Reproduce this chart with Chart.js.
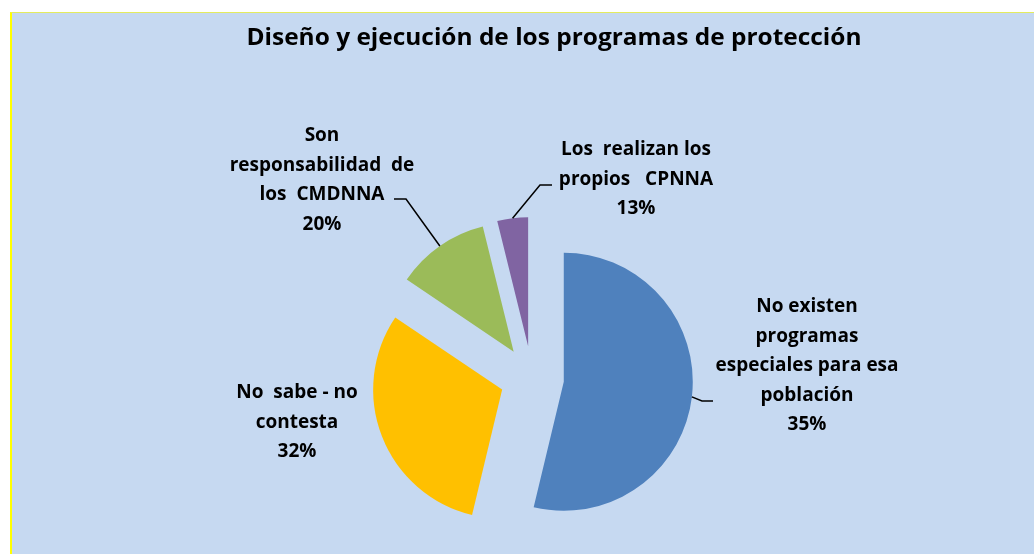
<!DOCTYPE html>
<html>
<head>
<meta charset="utf-8">
<script src="https://cdn.jsdelivr.net/npm/chart.js@4/dist/chart.umd.min.js"></script>
<style>
  html, body { margin: 0; padding: 0; background: #ffffff; overflow: hidden; }
  #box {
    position: absolute; left: 10px; top: 12px;
    width: 1030px; height: 545px;
    background: #C6D9F1;
    border-left: 2px solid #FFFF00;
    border-top: 1px solid #E4EC5E;
  }
  #chart { position: absolute; left: 0; top: 0; }
</style>
</head>
<body>
<div id="box"><canvas id="chart" width="1022" height="541"></canvas></div>
<script>
// slice data (angles), label texts as printed on the chart
const categories = [
  'No existen programas especiales para esa población',
  'No sabe - no contesta',
  'Son responsabilidad de los CMDNNA',
  'Los realizan los propios CPNNA'
];
const sliceShares = [53.75, 30.7, 11.7, 3.85];
const percentLabels = ['35%', '32%', '20%', '13%'];
const labelLines = [
  ['No existen', 'programas', 'especiales para esa', 'población'],
  ['No  sabe - no', 'contesta'],
  ['Son', 'responsabilidad  de', 'los  CMDNNA'],
  ['Los  realizan los', 'propios   CPNNA']
];
const sliceColors = ['#4F81BD', '#FFC000', '#9BBB59', '#8064A2'];

const chartTitle = 'Diseño y ejecución de los programas de protección';

// layout of the label blocks (canvas px)
const labelLayout = [
  { x: 795, y: 299, elbow: [690, 388], end: [701, 388] },
  { x: 285, y: 385, elbow: null, end: null },
  { x: 310, y: 128, elbow: [394, 186], end: [382, 186] },
  { x: 624, y: 142, elbow: [528, 172], end: [540, 172] }
];
const EXPLODE = 32;
const LINE_H = 29.5;
const FONT = '"Open Sans"';

Chart.defaults.font.family = 'Open Sans';

function drawFitted(ctx, text, x, y, sx) {
  ctx.save();
  ctx.translate(x, y);
  ctx.scale(sx, 1);
  ctx.fillText(text, 0, 0);
  ctx.restore();
}

// pull every slice out along its mid angle
const explodePlugin = {
  id: 'explode',
  afterDatasetUpdate(chart, args) {
    const meta = chart.getDatasetMeta(args.index);
    meta.data.forEach(arc => {
      const mid = (arc.startAngle + arc.endAngle) / 2;
      arc.x += Math.cos(mid) * EXPLODE;
      arc.y += Math.sin(mid) * EXPLODE;
    });
  }
};

const labelPlugin = {
  id: 'sliceLabels',
  afterDatasetsDraw(chart) {
    const ctx = chart.ctx;
    const meta = chart.getDatasetMeta(0);
    ctx.save();
    ctx.fillStyle = '#000000';
    ctx.textAlign = 'center';
    ctx.textBaseline = 'alphabetic';

    // title, squeezed to the width it has in the original
    ctx.font = 'bold 23px ' + FONT;
    const tw = ctx.measureText(chartTitle).width;
    drawFitted(ctx, chartTitle, 542, 32, 615 / tw);

    ctx.font = 'bold 19px ' + FONT;
    meta.data.forEach((arc, i) => {
      const lay = labelLayout[i];
      const lines = labelLines[i].concat([percentLabels[i]]);
      lines.forEach((ln, k) => drawFitted(ctx, ln, lay.x, lay.y + k * LINE_H, 1));

      if (lay.elbow) {
        const mid = (arc.startAngle + arc.endAngle) / 2;
        const px = arc.x + Math.cos(mid) * arc.outerRadius;
        const py = arc.y + Math.sin(mid) * arc.outerRadius;
        ctx.beginPath();
        ctx.strokeStyle = '#000000';
        ctx.lineWidth = 1.5;
        ctx.moveTo(px, py);
        ctx.lineTo(lay.elbow[0], lay.elbow[1]);
        ctx.lineTo(lay.end[0], lay.end[1]);
        ctx.stroke();
      }
    });
    ctx.restore();
  }
};

new Chart(document.getElementById('chart'), {
  type: 'pie',
  data: {
    labels: categories,
    datasets: [{
      data: sliceShares,
      backgroundColor: sliceColors,
      borderWidth: 0,
      radius: 129
    }]
  },
  options: {
    responsive: false,
    animation: false,
    events: [],
    layout: { padding: { left: 300, right: 282, top: 230, bottom: 41 } },
    plugins: {
      legend: { display: false },
      title: { display: false },
      tooltip: { enabled: false }
    }
  },
  plugins: [explodePlugin, labelPlugin]
});
</script>
</body>
</html>
